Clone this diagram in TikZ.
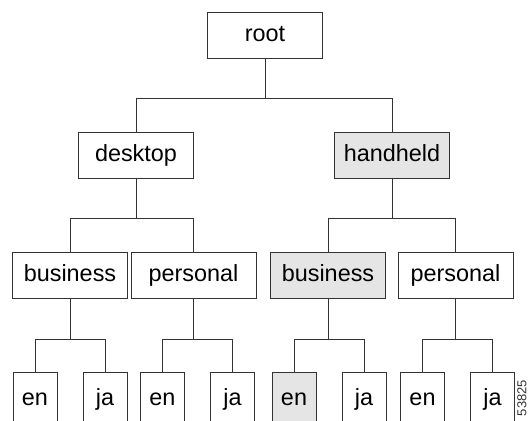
\documentclass[tikz,border=0pt]{standalone}
\usepackage{fontspec}
\setmainfont{Liberation Sans}
\usepackage{tikz}
\tikzset{every node/.style={align=center}, font=\fontsize{11.7}{14}\selectfont,
  box/.style={draw=black!80, line width=0.5pt, minimum width=57.5pt, minimum height=23pt,
    inner sep=0pt, text height=8.6pt, text depth=2.6pt},
  leaf/.style={box, minimum width=22pt, minimum height=27pt},
  picked/.style={fill=black!10},
  branch/.style={draw=black!80, line width=0.5pt}}

\begin{document}
\begin{tikzpicture}[x=0.5pt,y=-0.5pt]
            \useasboundingbox (0,0) rectangle (530,420);
            \clip (0,0) rectangle (530,420);
            \node [box] (root) at (265,35) {root};
            \node [box] (desk) at (136,155.5) {desktop};
            \node [box,picked] (hand) at (392,155.5) {handheld};

            \node [box] (bus1) at (70,275) {business};
            \node [box,minimum width=62.5pt] (per1) at (193.5,275) {personal};
            \node [box,picked] (bus2) at (328,275) {business};
            \node [box] (per2) at (455.5,275) {personal};

            \node [leaf] (en1) at (35,399) {en};
            \node [leaf] (ja1) [right of = en1,node distance=35pt] {ja};
            \node [leaf] (en2) at (162.5,399) {en};
            \node [leaf] (ja2) [right of = en2,node distance=35pt] {ja};
            \node [leaf,picked] (en3) at (294,399) {en};
            \node [leaf] (ja3) [right of = en3,node distance=35pt] {ja};
            \node [leaf] (en4) at (422.5,399) {en};
            \node [leaf] (ja4) [right of = en4,node distance=35pt] {ja};

            \node [rotate=90, font=\fontsize{6.5}{7}\selectfont, text=black!80] (fig) at (522,398) {53825};

            % tree branches
            \path[branch] (root.south) -- (root.south |- 0,98) coordinate (j0)
                (j0) -| (desk) (j0) -| (hand);
            \path[branch] (desk.south) -- (desk.south |- 0,218) coordinate (j1)
                (j1) -| (bus1) (j1) -| (per1);
            \path[branch] (hand.south) -- (hand.south |- 0,218) coordinate (j2)
                (j2) -| (bus2) (j2) -| (per2);
            \path[branch] (bus1.south) -- (bus1.south |- 0,339) coordinate (j3)
                (j3) -| (en1) (j3) -| (ja1);
            \path[branch] (per1.south) -- (per1.south |- 0,339) coordinate (j4)
                (j4) -| (en2) (j4) -| (ja2);
            \path[branch] (bus2.south) -- (bus2.south |- 0,339) coordinate (j5)
                (j5) -| (en3) (j5) -| (ja3);
            \path[branch] (per2.south) -- (per2.south |- 0,339) coordinate (j6)
                (j6) -| (en4) (j6) -| (ja4);

        \end{tikzpicture}
\end{document}
